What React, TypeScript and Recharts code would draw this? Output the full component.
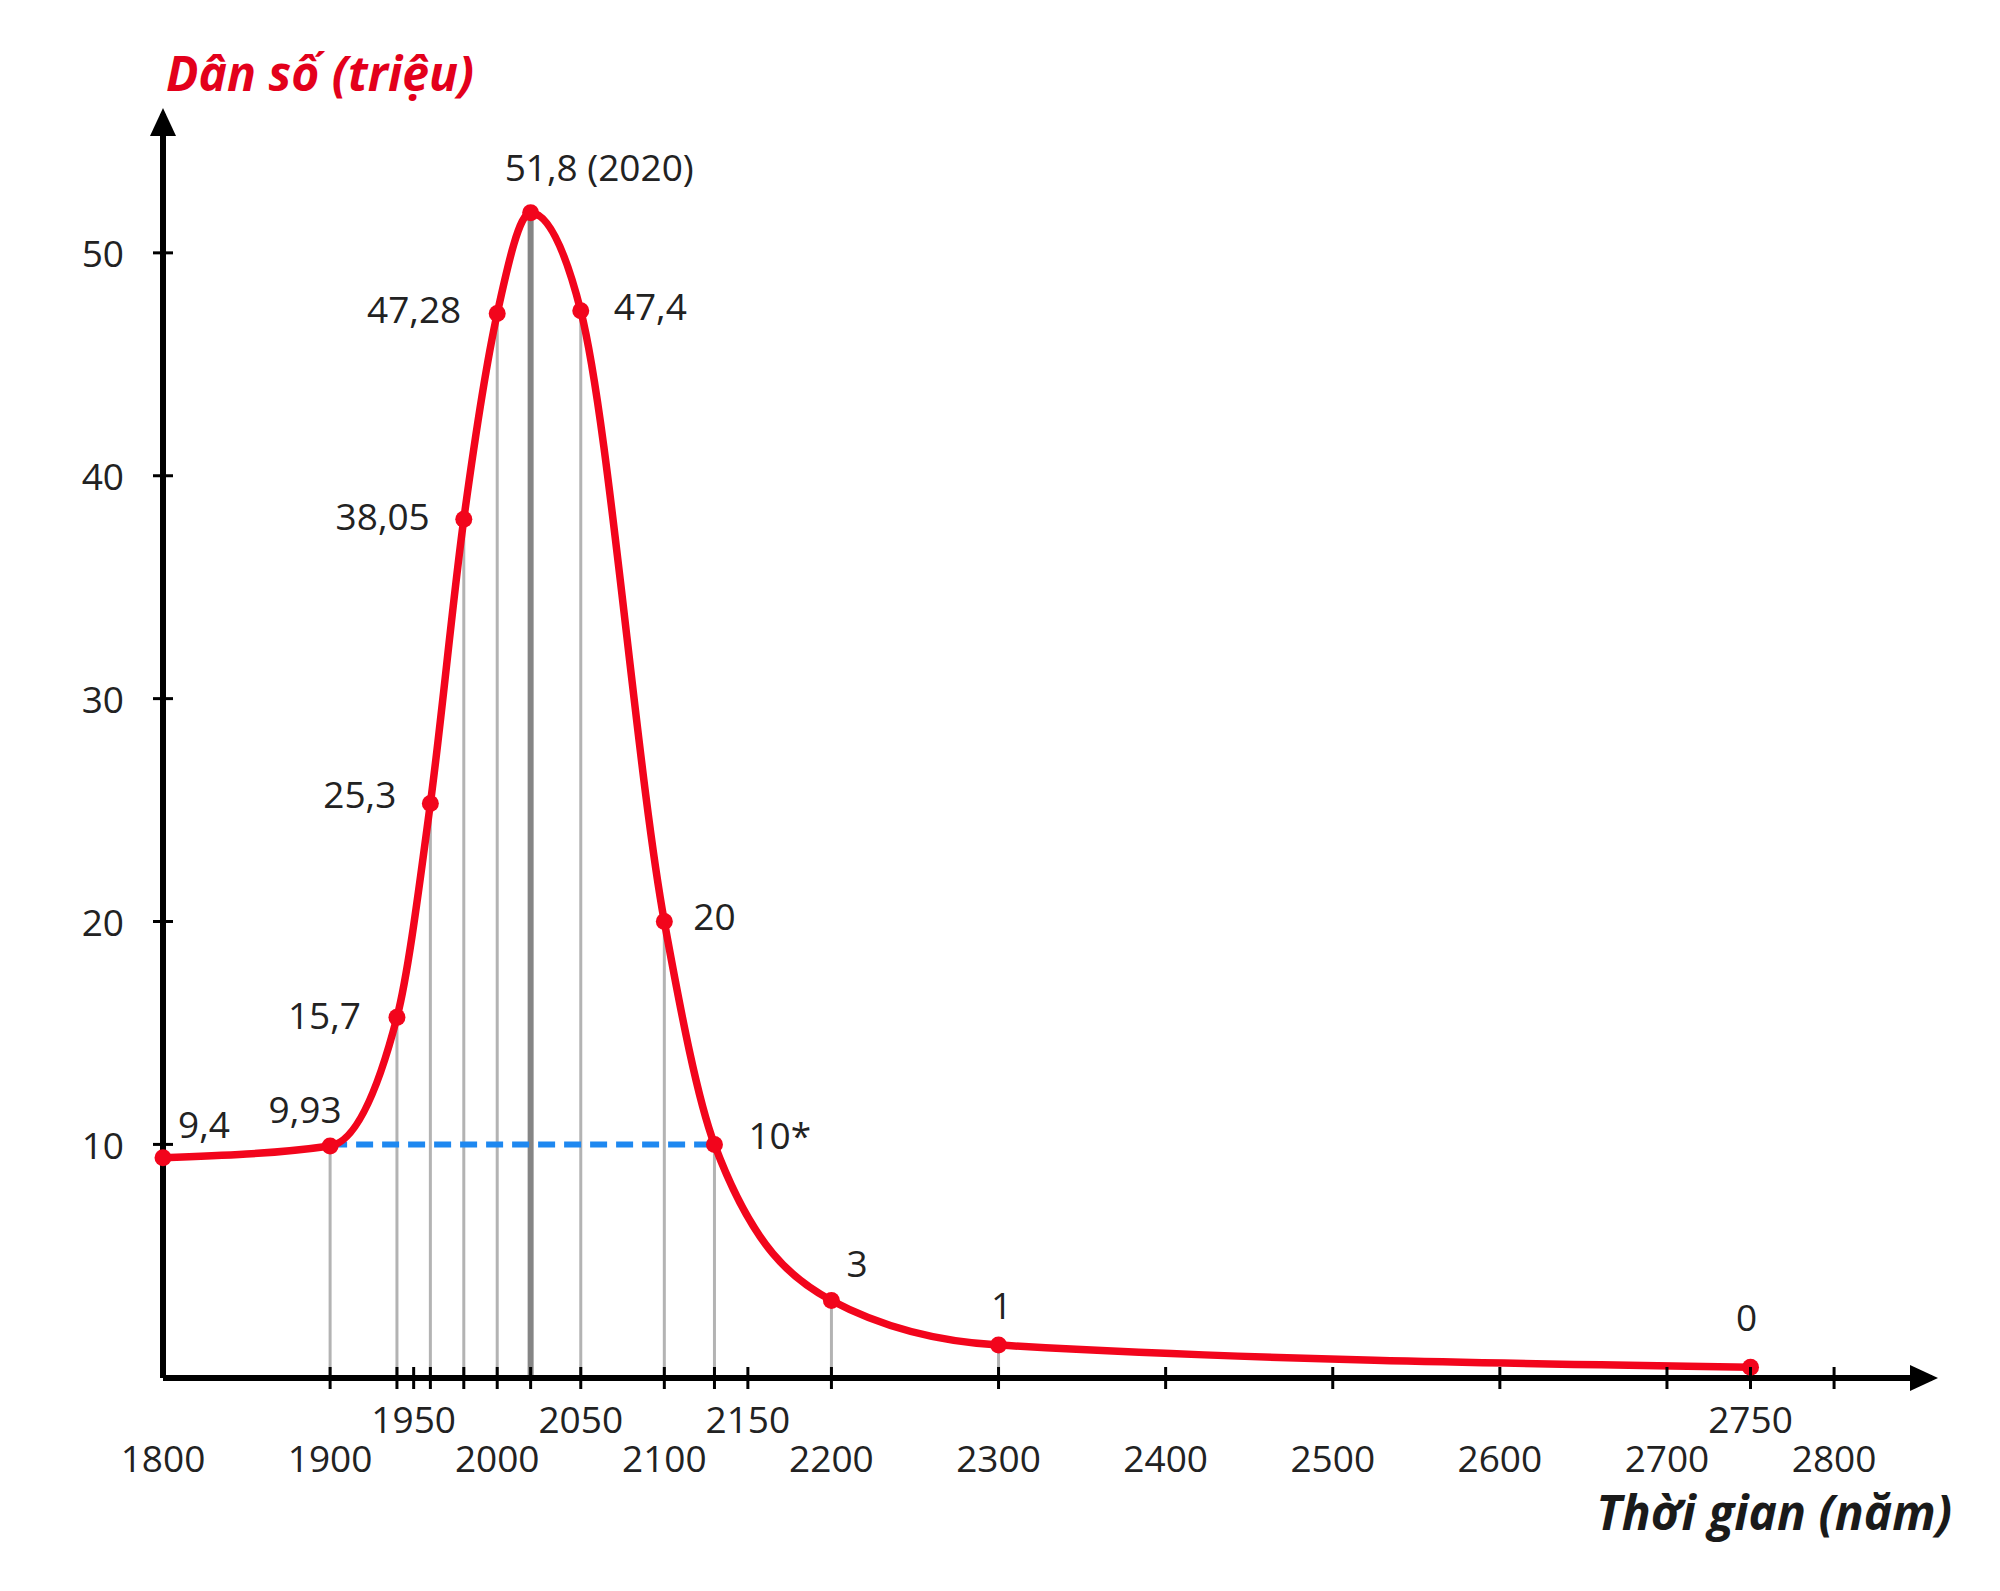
import React from 'react';
import { LineChart, Line, XAxis, YAxis, ReferenceLine, LabelList } from 'recharts';

// ---------- data ----------
const YEARS = [1800, 1900, 1940, 1960, 1980, 2000, 2020, 2050, 2100, 2130, 2200, 2300, 2750];
const POPULATION = [9.4, 9.93, 15.7, 25.3, 38.05, 47.28, 51.8, 47.4, 20, 10, 3, 1, 0];
const POINT_LABELS = ['9,4', '9,93', '15,7', '25,3', '38,05', '47,28', '51,8 (2020)', '47,4', '20', '10*', '3', '1', '0'];

const GUIDE_YEARS = [1900, 1940, 1960, 1980, 2000, 2050, 2100, 2130, 2200, 2300];
const PEAK_YEAR = 2020;

const TICK_MARK_YEARS = [1900, 1940, 1950, 1960, 1980, 2000, 2020, 2050, 2100, 2130, 2150, 2200, 2300, 2400, 2500, 2600, 2700, 2750, 2800];
const LABEL_YEARS_LOW = [1800, 1900, 2000, 2100, 2200, 2300, 2400, 2500, 2600, 2700, 2800];
const LABEL_YEARS_HIGH = [1950, 2050, 2150, 2750];
const Y_TICKS = [10, 20, 30, 40, 50];

const DASH_LEVEL = 10;
const DASH_FROM = 1900;
const DASH_TO = 2130;

const X_DOMAIN: [number, number] = [1800, 2858.6];
const Y_DOMAIN: [number, number] = [-0.48, 56.23];

const Y_TITLE = 'Dân số (triệu)';
const X_TITLE = 'Thời gian (năm)';

// ---------- style ----------
const RED = '#f2051c';
const TITLE_RED = '#e3001b';
const TEXT = '#222';
const FONT = "'Open Sans', 'Noto Sans', sans-serif";
const FS = 37;
const TITLE_FS = 48;

const LABEL_PLACEMENT: Record<string, { anchor: 'start' | 'middle' | 'end'; dx: number; dy: number }> = {
  '9,4': { anchor: 'start', dx: 15, dy: -34 },
  '9,93': { anchor: 'middle', dx: -25, dy: -37 },
  '15,7': { anchor: 'end', dx: -36, dy: -3 },
  '25,3': { anchor: 'end', dx: -34, dy: -10 },
  '38,05': { anchor: 'end', dx: -34, dy: -4 },
  '47,28': { anchor: 'end', dx: -36, dy: -5 },
  '51,8 (2020)': { anchor: 'start', dx: -26, dy: -46 },
  '47,4': { anchor: 'start', dx: 33, dy: -5 },
  '20': { anchor: 'start', dx: 29, dy: -6 },
  '10*': { anchor: 'start', dx: 34, dy: -10 },
  '3': { anchor: 'start', dx: 15, dy: -38 },
  '1': { anchor: 'middle', dx: 3, dy: -41 },
  '0': { anchor: 'middle', dx: -4, dy: -51 },
};

const data = YEARS.map((year, i) => ({ year, pop: POPULATION[i], label: POINT_LABELS[i] }));
const X_TICKS = Array.from(new Set([...TICK_MARK_YEARS, ...LABEL_YEARS_LOW, ...LABEL_YEARS_HIGH])).sort((a, b) => a - b);

const XTick = (props: any) => {
  const { x, y, payload } = props;
  const v = payload.value;
  const hasMark = TICK_MARK_YEARS.includes(v);
  const low = LABEL_YEARS_LOW.includes(v);
  const high = LABEL_YEARS_HIGH.includes(v);
  return (
    <g>
      {hasMark && <line x1={x} x2={x} y1={y - 11} y2={y + 11} stroke="#000" strokeWidth={3} />}
      {(low || high) && (
        <text x={x} y={y + (high ? 40 : 79)} textAnchor="middle" dominantBaseline="central"
          fontFamily={FONT} fontSize={FS} fill={TEXT}>{v}</text>
      )}
    </g>
  );
};

const YTick = (props: any) => {
  const { x, y, payload } = props;
  return (
    <g>
      <line x1={x - 10} x2={x + 10} y1={y} y2={y} stroke="#000" strokeWidth={3} />
      <text x={x - 39} y={y} textAnchor="end" dominantBaseline="central"
        fontFamily={FONT} fontSize={FS} fill={TEXT}>{payload.value}</text>
    </g>
  );
};

const PointLabel = (props: any) => {
  const { x, y, value } = props;
  const p = LABEL_PLACEMENT[String(value)] || { anchor: 'middle', dx: 0, dy: -30 };
  return (
    <text x={x + p.dx} y={y + p.dy} textAnchor={p.anchor} dominantBaseline="central"
      fontFamily={FONT} fontSize={FS} fill={TEXT}>{value}</text>
  );
};

const YTitle = (props: any) => {
  const vb = props.viewBox || { x: 0, y: 106, width: 155, height: 0 };
  return (
    <text x={vb.x + vb.width + 3} y={vb.y - 42} textAnchor="start" dominantBaseline="central"
      fontFamily={FONT} fontSize={TITLE_FS} fontWeight={700} fontStyle="italic" fill={TITLE_RED}>{Y_TITLE}</text>
  );
};

const XTitle = (props: any) => {
  const vb = props.viewBox || { x: 155, y: 1370, width: 1769, height: 60 };
  return (
    <text x={vb.x + vb.width + 20} y={vb.y + 133} textAnchor="end" dominantBaseline="central"
      fontFamily={FONT} fontSize={TITLE_FS} fontWeight={700} fontStyle="italic" fill="#1a1a1a">{X_TITLE}</text>
  );
};

export default function App() {
  return (
    <LineChart width={1992} height={1583} data={data}
      margin={{ top: 106, right: 68, bottom: 153, left: 0 }}>
      <defs>
        <marker id="arrowEnd" viewBox="0 0 28 26" refX={22} refY={13} markerWidth={28} markerHeight={26}
          markerUnits="userSpaceOnUse" orient="auto">
          <path d="M0,0 L28,13 L0,26 z" fill="#000" />
        </marker>
        <marker id="arrowStart" viewBox="0 0 28 26" refX={6} refY={13} markerWidth={28} markerHeight={26}
          markerUnits="userSpaceOnUse" orient="auto">
          <path d="M28,0 L0,13 L28,26 z" fill="#000" />
        </marker>
      </defs>
      <XAxis type="number" dataKey="year" domain={X_DOMAIN} ticks={X_TICKS} interval={0}
        tickSize={0} tickMargin={0} tickLine={false} tick={<XTick />} height={60}
        axisLine={{ stroke: '#000', strokeWidth: 6, markerEnd: 'url(#arrowEnd)' } as any}
        label={{ content: <XTitle /> } as any} />
      <YAxis type="number" domain={Y_DOMAIN} ticks={Y_TICKS} interval={0}
        tickSize={0} tickMargin={0} tickLine={false} tick={<YTick />} width={155}
        axisLine={{ stroke: '#000', strokeWidth: 6, markerStart: 'url(#arrowStart)' } as any}
        label={{ content: <YTitle /> } as any} />
      {GUIDE_YEARS.map((yr) => (
        <ReferenceLine key={'g' + yr}
          segment={[{ x: yr, y: Y_DOMAIN[0] }, { x: yr, y: POPULATION[YEARS.indexOf(yr)] }]}
          stroke="#b3b3b3" strokeWidth={3} ifOverflow="visible" />
      ))}
      <ReferenceLine
        segment={[{ x: PEAK_YEAR, y: Y_DOMAIN[0] }, { x: PEAK_YEAR, y: POPULATION[YEARS.indexOf(PEAK_YEAR)] }]}
        stroke="#858585" strokeWidth={6} ifOverflow="visible" />
      <ReferenceLine
        segment={[{ x: DASH_FROM, y: DASH_LEVEL }, { x: DASH_TO, y: DASH_LEVEL }]}
        stroke="#1e88f0" strokeWidth={6} strokeDasharray="17 9" ifOverflow="visible" />
      <Line type="monotone" dataKey="pop" stroke={RED} strokeWidth={7.5} isAnimationActive={false}
        dot={{ r: 8.5, fill: RED, stroke: RED, strokeWidth: 0 }} activeDot={false}>
        <LabelList dataKey="label" content={<PointLabel />} />
      </Line>
    </LineChart>
  );
}
